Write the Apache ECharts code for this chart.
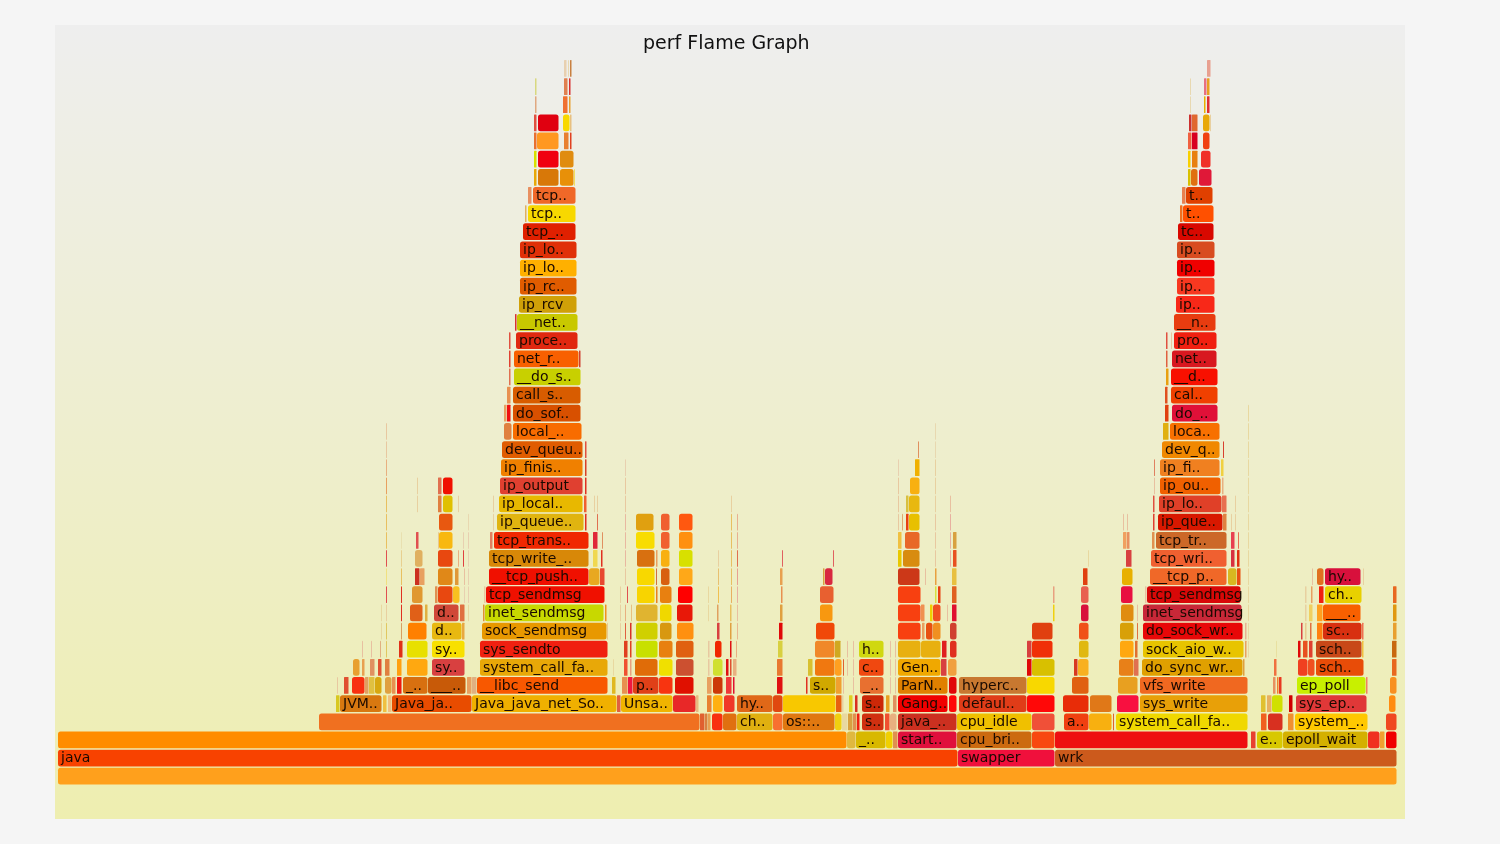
<!DOCTYPE html>
<html><head><meta charset="utf-8">
<style>html,body{margin:0;padding:0;background:#f5f5f5}#c{width:1500px;height:844px}</style>
<script src="https://cdn.jsdelivr.net/npm/echarts@6/dist/echarts.min.js"></script>
</head><body><div id="c"></div>
<script>
const chartTitle = 'perf Flame Graph';
// Each stack level: frames as [start, end, name] in samples, with a parallel colour list.
const row0 = [[58,1397]];
const col0 = ['ffa01c'];
const row1 = [[58,958,'java'],[958,1055,'swapper'],[1055,1397,'wrk']];
const col1 = ['f84200','f0103c','cc5a1c'];
const row2 = [[58,847],[847,856],[856,886,'_..'],[886,893],[893,898],[898,957,'start..'],[957,1032,'cpu_bri..'],[1032,1055],[1055,1248],[1251,1256],[1257,1283,'e..'],[1283,1368,'epoll_wait'],[1368,1380],[1380,1385],[1386,1397]];
const col2 = ['ff8c00','e0b840','d8b800','f0d000','e09050','e0103c','cc6a10','f84810','ee1010','e84030','d8c800','d4b000','f03020','f0a030','f00000'];
const row3 = [[319,700],[700,705],[705,708],[708,711],[712,723],[723,737],[737,773,'ch..'],[773,783],[783,835,'os::..'],[835,842],[842,848],[848,853],[853,857],[857,860],[862,884,'s..'],[885,890],[890,897],[898,957,'java_..'],[957,1032,'cpu_idle'],[1032,1055],[1064,1089,'a..'],[1089,1112],[1113,1114],[1116,1248,'system_call_fa..'],[1261,1267],[1268,1283],[1288,1294],[1295,1368,'system_..'],[1386,1397]];
const col3 = ['f07020','e06030','d88040','e8a050','f83010','e07010','e0b010','f87030','e07810','f0d010','e8d8a0','d8a040','e09050','f02010','d03010','f05030','e8b080','cc3020','f0c000','f05038','f04010','f8b010','e06030','f0d800','f06020','d83020','f09030','ffc800','f04820'];
const row4 = [[336,340],[340,382,'JVM..'],[383,387],[388,392],[392,472,'Java_ja..'],[472,617,'Java_java_net_So..'],[617,621],[621,673,'Unsa..'],[673,696],[696,699],[707,712],[713,723],[724,735],[737,773,'hy..'],[773,783],[783,836],[836,842],[842,844],[849,853],[855,858],[862,884,'s..'],[886,890],[893,897],[898,948,'Gang..'],[949,957],[959,1027,'defaul..'],[1027,1055],[1063,1089],[1090,1112],[1117,1139],[1140,1248,'sys_write'],[1261,1266],[1267,1272],[1272,1283],[1289,1293],[1296,1367,'sys_ep..'],[1389,1396]];
const col4 = ['d8c820','d87810','f0c040','f0c080','e84c00','f0b000','e06040','f0b400','e82828','e8b880','e88030','ffb010','f03828','e06818','e04810','f8c800','e86010','e8d0a0','e0d020','d83020','cc2808','e8a020','e09060','f00000','ff0808','e03c18','ff0808','e82c08','e07818','f81040','e8a008','e0c030','e8b060','d0e000','d00000','e03838','ff8c10'];
const row5 = [[337,338],[344,349],[352,365],[365,369],[369,375],[375,382],[385,392],[392,396],[397,402],[403,428,'_..'],[428,466,'___..'],[467,472],[472,477],[477,608,'__libc_send'],[612,616],[622,628],[628,633],[633,659,'p..'],[659,673],[675,694],[707,712],[713,723],[726,732],[733,735],[777,783],[806,808],[810,836,'s..'],[836,842],[843,844],[853,854],[860,884,'_..'],[890,891],[895,896],[898,948,'ParN..'],[949,957],[959,1027,'hyperc..'],[1027,1055],[1072,1089],[1118,1138],[1140,1248,'vfs_write'],[1273,1276],[1277,1279],[1279,1282],[1297,1366,'ep_poll'],[1366,1368],[1390,1397]];
const col5 = ['e8c8a0','e05030','f83010','e0a060','e0c040','d8a810','e0a040','e89050','f01810','d87010','c85a08','e8a060','e0b080','f85800','e0b820','e89050','f01840','e04018','f83410','e01000','e8a060','cc3808','f03838','e01030','e01010','e03020','d0a800','f0a030','e8c0a0','e8c0a0','e87030','e8c0a0','e8c0a0','e08000','e00808','c87830','f8d800','e06010','e8a020','f06820','e89060','f08030','e83820','c8f000','f08060','f89020'];
const row6 = [[353,360],[362,365],[370,375],[378,382],[385,390],[397,402],[407,428],[432,465,'sy..'],[480,608,'system_call_fa..'],[613,614],[624,628],[630,632],[635,658],[659,673],[676,694],[708,710],[713,723],[726,729],[730,732],[733,737],[777,783],[808,813],[815,835],[835,842],[843,844],[847,848],[853,854],[859,884,'c..'],[890,891],[895,896],[898,941,'Gen..'],[941,947],[948,957],[1027,1032],[1032,1055],[1074,1078],[1078,1089],[1119,1134],[1134,1139],[1142,1243,'do_sync_wr..'],[1243,1245],[1274,1277],[1298,1308],[1308,1315],[1316,1364,'sch..'],[1392,1397]];
const col6 = ['e8a030','e8a050','e09060','e05030','e08040','ffa010','ffa810','d84040','e8a808','e8d8a0','f05030','e8a080','e06c08','f0e000','cc5030','e8c8a0','d0e030','e01010','e05030','e8b080','e87830','d8c030','f07810','ffa020','e06030','e8c0a0','e8c0a0','f04810','e8c0a0','e8c0a0','f0a800','d84040','f0a040','e00808','d8c000','d83820','f8b020','e88018','e07050','e0a000','e0a040','f07040','f04020','f05020','e84c08','e86820'];
const row7 = [[362,363],[371,372],[380,381],[386,387],[399,403],[407,428],[432,465,'sy..'],[480,608,'sys_sendto'],[624,628],[630,632],[636,658],[659,673],[676,694],[708,710],[715,722],[730,732],[736,737],[778,783],[815,835],[835,841],[847,848],[853,854],[859,884,'h..'],[890,891],[895,896],[898,921],[921,941],[942,947],[950,957],[1027,1032],[1032,1053],[1079,1089],[1120,1134],[1135,1138],[1143,1244,'sock_aio_w..'],[1245,1247],[1248,1249],[1276,1277],[1298,1301],[1303,1308],[1309,1313],[1316,1362,'sch..'],[1362,1364],[1392,1397]];
const col7 = ['e8c0a0','e8c0a0','e0b080','e0c860','e03018','e8e000','f8e000','f02010','e04020','e04020','c8e000','e88010','e06010','e8c8a0','f02800','e01010','e8b080','d8d040','f08828','d0a820','e8c0a0','e8c0a0','d0d810','e8c0a0','e8c0a0','e8b010','e8b010','e02020','e03020','d84040','f03008','e0b810','ffa810','e07030','e8c400','e8a060','e8d8a0','e8e0a0','e00808','e85020','e04030','c84818','f0c040','c86810'];
const row8 = [[381,382],[386,387],[401,402],[408,427],[432,462,'d..'],[462,465],[482,607,'sock_sendmsg'],[607,608],[620,621],[625,626],[630,632],[636,658],[660,672],[677,694],[717,720],[730,732],[737,738],[779,783],[816,835],[898,921],[922,925],[926,933],[933,941],[950,957],[1032,1053],[1079,1089],[1120,1134],[1137,1138],[1143,1243,'do_sock_wr..'],[1245,1247],[1248,1249],[1301,1303],[1305,1307],[1310,1312],[1317,1323],[1323,1362,'sc..'],[1362,1364],[1393,1397]];
const col8 = ['e8d8a0','e0c860','d8a060','ff8000','e8b810','e8a840','e89800','e8c890','e8d0a0','e06040','d83028','d0d000','d89810','ff9010','d84040','e0a040','e8b890','e00808','f04808','f84010','e8a060','e85010','f09020','d04030','e04010','f05018','d8a008','e07040','e80808','e8b090','e8d8a0','d84040','e8c890','e07040','ff8010','d83010','f07050','e8a030'];
const row9 = [[381,382],[386,387],[401,402],[410,423],[425,428],[434,459,'d..'],[460,465],[468,469],[483,485],[485,604,'inet_sendmsg'],[605,607],[620,621],[625,626],[631,632],[636,658],[660,672],[677,693],[708,709],[717,719],[730,732],[737,738],[780,783],[820,833],[898,921],[921,925],[930,933],[933,941],[947,948],[952,957],[1053,1055],[1081,1089],[1121,1134],[1137,1138],[1143,1242,'inet_sendmsg'],[1248,1249],[1305,1307],[1309,1313],[1317,1323],[1323,1361,'___..'],[1393,1397]];
const col9 = ['e8d8a0','e8d0a0','e03020','e06018','e0b040','d04838','e07040','e8d8a0','e09030','c8d800','f09020','e8d0a0','e8b080','e8c080','e0b430','f0d800','e81808','e8d8a0','e0a060','e8c060','e8c0a0','e0a040','f89810','f84010','f09050','f0d000','f05020','e8c0a0','e01030','f0d010','d8103c','e08c10','e8c0a0','c82838','e8d8a0','e8d0a0','f0d060','ffa020','f86000','e09810'];
const row10 = [[386,387],[401,402],[412,423],[435,438],[438,453],[453,460],[464,465],[468,469],[484,486],[486,605,'tcp_sendmsg'],[620,621],[627,628],[637,655],[656,658],[660,672],[678,693],[708,709],[718,719],[731,732],[737,738],[781,783],[820,834],[898,921],[935,937],[938,941],[952,957],[1053,1055],[1081,1089],[1121,1133],[1145,1147],[1147,1241,'tcp_sendmsg'],[1248,1249],[1305,1307],[1311,1313],[1319,1324],[1325,1362,'ch..'],[1393,1397]];
const col10 = ['e05050','e03020','e09830','e09050','e84810','f8c020','e8d0b0','e8d0b0','e8c8a0','f01000','e8d0a0','e05050','f8d400','e88020','e88010','ff0000','e8d8a0','f0c050','e8b060','e8b0a0','e89050','e86030','f84010','d8e040','e84010','e06020','e8a080','e86050','e81040','e8c0a0','d80808','e8d8a0','e8d0a0','e8a060','f02010','e8d000','e86820'];
const row11 = [[386,387],[401,402],[415,420],[420,425],[438,453],[455,459],[464,465],[468,469],[489,589,'__tcp_push..'],[589,600],[600,605],[625,626],[637,655],[656,657],[661,670],[679,693],[718,719],[731,732],[737,738],[780,783],[823,825],[825,833],[898,920],[925,926],[935,937],[952,957],[1083,1088],[1122,1133],[1150,1227,'__tcp_p..'],[1228,1237],[1237,1241],[1248,1249],[1312,1313],[1317,1324],[1325,1361,'hy..'],[1363,1364]];
const col11 = ['f0e080','e8c060','cc3020','e8a060','e08818','e09838','e8c0a0','e8d0b0','f01000','e8a820','e84830','e8c8a0','f8d800','d07040','d86010','ffa818','e8c070','e8c060','e8a090','e8a050','d8a040','d82840','cc3818','e8c0a0','e8a040','e8c040','e04010','e8b000','f06828','d8b820','e85010','e8d8a0','e8c0a0','e07020','d8103c','e8d0a0'];
const row12 = [[386,387],[401,402],[415,423],[438,453],[458,459],[463,464],[468,469],[489,589,'tcp_write_..'],[593,598],[601,603],[625,626],[637,655],[656,658],[661,670],[679,693],[718,719],[731,732],[737,738],[782,783],[833,834],[898,902],[903,920],[935,936],[950,951],[953,957],[1088,1089],[1126,1132],[1151,1227,'tcp_wri..'],[1231,1235],[1237,1240],[1248,1249]];
const col12 = ['e05050','e8d090','e0b060','e84810','e8b080','e04040','e8d0b0','d88808','f0d850','e03020','e8b8a0','d87010','e8a060','f8b010','d8e000','e8d0a0','e8c060','e07050','e06060','e06060','e8c800','d88c10','e8c8a0','e8b0a0','e85020','e8d8a0','d84040','f06030','d83040','e03010','e8d8a0'];
const row13 = [[386,387],[401,402],[416,419],[438,439],[439,453],[463,464],[468,469],[490,493],[494,589,'tcp_trans..'],[593,598],[602,603],[625,626],[636,655],[661,670],[679,693],[731,732],[737,738],[898,902],[905,920],[935,936],[950,951],[953,957],[1123,1127],[1127,1130],[1152,1155],[1156,1227,'tcp_tr..'],[1231,1235],[1238,1239],[1248,1249]];
const col13 = ['e8c060','e8e0b0','e05050','e8c890','f8b810','e8d0b0','e8d0b0','e08060','f02800','e02838','e09060','e8b8a0','f8dc00','f06030','ff9010','e8c060','e8b090','f0c040','e86828','e8c8a0','e8b0a0','d8a040','f0a060','e89060','e09050','cc6828','e84050','e87050','e8d8a0'];
const row14 = [[386,387],[439,453],[468,469],[493,494],[497,584,'ip_queue..'],[585,587],[597,598],[625,626],[636,654],[661,670],[679,693],[731,732],[737,738],[898,899],[902,903],[906,909],[909,920],[935,936],[950,951],[1123,1124],[1127,1128],[1153,1155],[1158,1223,'ip_que..'],[1223,1227],[1231,1232],[1235,1236],[1248,1249]];
const col14 = ['e8c060','e85810','e8d8b0','e8d0a0','e0b410','e03020','e07050','e8b8a0','e0a010','f06030','ff5810','e8c060','e8b090','e8c8a0','e0a870','e84010','e8c000','e8c8a0','e8b0a0','e8c0a0','e8c0a0','e04030','d81800','e08040','e8d0a0','e8d0a0','e8d8a0'];
const row15 = [[386,387],[417,418],[438,442],[443,453],[458,459],[493,494],[499,583,'ip_local..'],[584,587],[594,595],[597,598],[625,626],[731,732],[898,899],[906,909],[909,920],[935,936],[950,951],[1153,1155],[1159,1222,'ip_lo..'],[1222,1227],[1235,1236],[1248,1249]];
const col15 = ['e8c060','e8d0a0','e08040','e0c000','e8d0a0','e8d0a0','e8b800','f06030','e8d0a0','e8d0a0','e8c8a0','e8d0a0','e8c8a0','d8c040','e8b810','e8d0a0','e8c0a0','e05040','e04028','e87050','e8d0a0','e8d8a0'];
const row16 = [[386,387],[417,418],[438,442],[443,453],[500,583,'ip_output'],[585,587],[625,626],[898,899],[910,920],[935,936],[1154,1155],[1160,1221,'ip_ou..'],[1222,1224],[1248,1249]];
const col16 = ['e8a060','e8d0a0','e07050','f01000','e04030','e03020','e8c8a0','e8c8a0','f8b010','e8d0a0','e8c0a0','f06000','e8b080','e8d8a0'];
const row17 = [[386,387],[501,583,'ip_finis..'],[585,587],[625,626],[898,899],[915,920],[935,936],[1154,1155],[1160,1220,'ip_fi..'],[1221,1224],[1248,1249]];
const col17 = ['e8b080','f08000','d84028','e8d0b0','e8d0b0','f0b000','e8d0a0','e08060','f08020','f0d040','e8d8a0'];
const row18 = [[386,387],[502,583,'dev_queu..'],[585,587],[918,919],[935,936],[1162,1220,'dev_q..'],[1223,1224],[1248,1249]];
const col18 = ['e8c8a0','e05c00','e05040','e09060','e8d8b0','f08800','d84030','e8d8a0'];
const row19 = [[386,387],[504,512],[513,582,'local_..'],[935,936],[1163,1169],[1170,1220,'loca..'],[1248,1249]];
const col19 = ['e8c8a0','e08040','f86c00','e8d8b0','e0b010','f87000','e8d8a0'];
const row20 = [[504,507],[507,511],[513,581,'do_sof..'],[1165,1169],[1172,1218,'do_..'],[1248,1249]];
const col20 = ['e8a060','f01010','d85000','e04010','e01038','e8d8a0'];
const row21 = [[507,511],[513,581,'call_s..'],[1165,1168],[1171,1218,'cal..']];
const col21 = ['e89050','d85c00','e05020','f04000'];
const row22 = [[509,511],[514,581,'__do_s..'],[1166,1169],[1171,1218,'__d..']];
const col22 = ['e07050','c8d000','e8a010','f81000'];
const row23 = [[509,511],[514,579,'net_r..'],[579,581],[1166,1168],[1172,1217,'net..']];
const col23 = ['e04030','f86000','d04030','e06040','d81820'];
const row24 = [[509,511],[516,578,'proce..'],[1166,1168],[1171,1172],[1174,1217,'pro..']];
const col24 = ['e05040','e02810','e05040','e8c8a0','f02010'];
const row25 = [[515,517],[517,578,'__net..'],[1174,1216,'__n..']];
const col25 = ['d83030','c8c800','e83c10'];
const row26 = [[519,577,'ip_rcv'],[1176,1215,'ip..']];
const col26 = ['d0a008','f82818'];
const row27 = [[520,577,'ip_rc..'],[1177,1215,'ip..']];
const col27 = ['e05c00','f83820'];
const row28 = [[520,577,'ip_lo..'],[1177,1215,'ip..']];
const col28 = ['ffb000','f00000'];
const row29 = [[520,577,'ip_lo..'],[1177,1215,'ip..']];
const col29 = ['e03008','d84c20'];
const row30 = [[523,576,'tcp_..'],[1178,1214,'tc..']];
const col30 = ['e02000','d80800'];
const row31 = [[525,527],[528,576,'tcp..'],[1180,1183],[1183,1214,'t..']];
const col31 = ['e0b060','f8d800','f07020','ff5000'];
const row32 = [[528,532],[533,576,'tcp..'],[1182,1186],[1186,1213,'t..']];
const col32 = ['e89060','f06828','e88050','e04000'];
const row33 = [[534,537],[538,559],[560,574],[574,575],[1188,1191],[1191,1198],[1199,1212]];
const col33 = ['e8a808','d87808','e89008','f0e060','d8c000','e07010','e01838'];
const row34 = [[534,537],[538,559],[560,574],[1188,1191],[1192,1198],[1201,1211]];
const col34 = ['d8e000','f00010','e08c10','f8d000','e88010','f03028'];
const row35 = [[534,537],[537,559],[564,569],[570,572],[1188,1192],[1192,1198],[1203,1210]];
const col35 = ['e87030','ff9820','e88030','e04020','f06040','d80020','f04010'];
const row36 = [[534,537],[538,559],[563,570],[570,572],[1189,1192],[1192,1198],[1203,1210],[1210,1211]];
const col36 = ['e05040','e00010','f8d800','e8c080','cc3030','e06830','e8a808','e8d0a0'];
const row37 = [[535,537],[563,568],[569,571],[1190,1191],[1204,1206],[1207,1210]];
const col37 = ['e0a880','f07030','e8a030','e8d8b0','e8b000','e03030'];
const row38 = [[535,537],[564,568],[569,571],[1190,1191],[1204,1207],[1207,1210]];
const col38 = ['d8d880','e08050','d83030','e8d8b0','e87080','e8a020'];
const row39 = [[564,567],[568,569],[570,572],[1207,1211]];
const col39 = ['e8d0b0','e8d8b0','c88040','e8a090'];

const rows = [row0,row1,row2,row3,row4,row5,row6,row7,row8,row9,row10,row11,row12,row13,row14,row15,row16,row17,row18,row19,row20,row21,row22,row23,row24,row25,row26,row27,row28,row29,row30,row31,row32,row33,row34,row35,row36,row37,row38,row39];
const cols = [col0,col1,col2,col3,col4,col5,col6,col7,col8,col9,col10,col11,col12,col13,col14,col15,col16,col17,col18,col19,col20,col21,col22,col23,col24,col25,col26,col27,col28,col29,col30,col31,col32,col33,col34,col35,col36,col37,col38,col39];
const frames = [];
rows.forEach((r, level) => r.forEach((f, i) => frames.push({value:[f[0], f[1], level], name:f[2] || '', color:'#' + cols[level][i]})));

const chart = echarts.init(document.getElementById('c'), null, {renderer:'canvas'});
chart.setOption({
  animation:false,
  backgroundColor:'#f5f5f5',
  title:{text:chartTitle,left:643,top:35,padding:0,textStyle:{fontFamily:'DejaVu Sans',fontSize:19,fontWeight:'normal',color:'#111'}},
  graphic:[{type:'rect',silent:true,z:-10,shape:{x:55,y:25,width:1350,height:794},
    style:{fill:new echarts.graphic.LinearGradient(0,0,0,1,[{offset:0,color:'#eeeeee'},{offset:1,color:'#eeeeb0'}])}}],
  grid:{left:58,right:103,top:59,bottom:59},
  xAxis:{type:'value',min:58,max:1397,show:false},
  yAxis:{type:'value',min:0,max:40,show:false},
  tooltip:{show:false},
  series:[{type:'custom',coordinateSystem:'cartesian2d',clip:false,
    encode:{x:[0,1],y:2},
    data:frames,
    renderItem(params, api){
      const f = frames[params.dataIndex];
      const a = api.coord([api.value(0), api.value(2)]);
      const b = api.coord([api.value(1), api.value(2) + 1]);
      const w = b[0] - a[0];
      const children = [{type:'rect',shape:{x:a[0],y:b[1]+1,width:Math.max(w-0.5,1),height:a[1]-b[1]-1.4,r:w>6?2.5:0.5},style:{fill:f.color}}];
      if (f.name) children.push({type:'text',style:{x:a[0]+3,y:(a[1]+b[1])/2+1,text:f.name,fill:'#1a0a00',fontFamily:'DejaVu Sans',fontSize:14,verticalAlign:'middle',align:'left'}});
      return {type:'group',children};
    }}]
});
</script></body></html>
